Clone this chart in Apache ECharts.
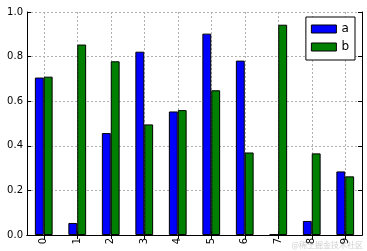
<!DOCTYPE html>
<html><head><meta charset="utf-8">
<script src="https://cdn.jsdelivr.net/npm/echarts@6/dist/echarts.min.js"></script>
<style>html,body{margin:0;padding:0;background:#fff}#c{width:367px;height:251px}</style>
</head><body><div id="c"></div>
<script>
const categories = ['0','1','2','3','4','5','6','7','8','9'];
const seriesA = [0.706, 0.054, 0.457, 0.822, 0.554, 0.903, 0.782, 0.003, 0.063, 0.285];
const seriesB = [0.710, 0.854, 0.779, 0.496, 0.560, 0.649, 0.370, 0.943, 0.366, 0.263];
const yTicks = [0.0, 0.2, 0.4, 0.6, 0.8, 1.0];

const font = 'DejaVu Sans';
const chart = echarts.init(document.getElementById('c'), null, {renderer: 'canvas'});
const tick = {show: true, inside: true, length: 4, alignWithLabel: true, lineStyle: {color: '#000', width: 1}};
const grid = {show: true, lineStyle: {color: '#b0b0b0', type: [2, 2], width: 1}};
chart.setOption({
  animation: false,
  backgroundColor: '#fff',
  grid: {left: 27, right: 5, top: 12, bottom: 16, containLabel: false},
  legend: {
    data: ['a', 'b'], orient: 'vertical', right: 12, top: 17, icon: 'rect',
    itemWidth: 25, itemHeight: 8, itemGap: 6, padding: [6, 6, 7, 5],
    borderColor: '#000', borderWidth: 1, backgroundColor: '#fff',
    textStyle: {fontFamily: font, fontSize: 12, color: '#000'},
    itemStyle: {borderColor: '#000', borderWidth: 1}
  },
  xAxis: [{
    type: 'category', data: categories, boundaryGap: true,
    axisLine: {show: true, lineStyle: {color: '#000', width: 1}},
    axisTick: tick,
    splitLine: Object.assign({alignWithLabel: true}, grid),
    axisLabel: {rotate: 90, fontFamily: font, fontSize: 10, color: '#000', margin: 3}
  }, {
    type: 'category', data: categories, position: 'top', boundaryGap: true,
    axisLine: {show: true, lineStyle: {color: '#000', width: 1}},
    axisTick: tick, axisLabel: {show: false}, splitLine: {show: false}
  }],
  yAxis: [{
    type: 'value', min: 0, max: 1.0, interval: 0.2,
    axisLine: {show: true, lineStyle: {color: '#000', width: 1}},
    axisTick: tick, splitLine: grid,
    axisLabel: {fontFamily: font, fontSize: 10, color: '#000', margin: 4,
      formatter: v => v.toFixed(1)}
  }, {
    type: 'value', min: 0, max: 1.0, interval: 0.2, position: 'right',
    axisLine: {show: true, lineStyle: {color: '#000', width: 1}},
    axisTick: tick, axisLabel: {show: false}, splitLine: {show: false}
  }],
  series: [{
    name: 'a', type: 'bar', data: seriesA, barGap: '0%', barCategoryGap: '47%',
    itemStyle: {color: '#0000ff', borderColor: '#000', borderWidth: 1}
  }, {
    name: 'b', type: 'bar', data: seriesB, barGap: '0%', barCategoryGap: '47%',
    itemStyle: {color: '#008000', borderColor: '#000', borderWidth: 1}
  }],
  graphic: [{
    type: 'text', right: 4, bottom: 2,
    style: {text: '@稀土掘金技术社区', fontFamily: 'Noto Sans CJK SC', fontSize: 8, fill: 'rgba(160,160,160,0.5)'}
  }]
});
</script></body></html>
